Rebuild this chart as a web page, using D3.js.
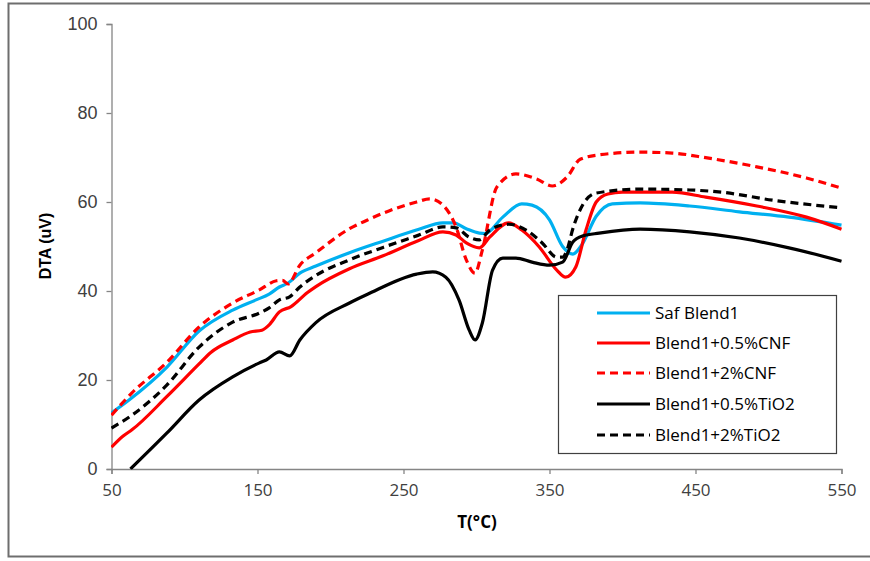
<!DOCTYPE html>
<html><head><meta charset="utf-8">
<script src="https://cdn.jsdelivr.net/npm/d3@7"></script>
<style>body{margin:0;background:#fff;}svg{display:block;}</style>
</head><body>
<svg id="c" width="870" height="561"></svg>
<script>
const seriesNames = ["Saf Blend1","Blend1+0.5%CNF","Blend1+2%CNF","Blend1+0.5%TiO2","Blend1+2%TiO2"];
const seriesColors = ["#00B0F0","#FF0000","#FF0000","#000000","#000000"];
const seriesDashed = [false,false,true,false,true];
const xTicks = [50,150,250,350,450,550];
const yTicks = [0,20,40,60,80,100];

const safBlend1 = [[50,12.6],[62,15.5],[88,22.9],[110,31],[133,35.7],[149,38],[158,39.3],[165,40.9],[171,41.8],[179,44],[190,45.6],[213,48.6],[236,51.2],[260,53.8],[277,55.3],[284,55.3],[293,54],[302,53],[306,52.9],[318,56.6],[331,59.6],[338,59.3],[350,56],[359,50],[366,48.3],[372,50.3],[382,56.8],[393,59.6],[412,59.8],[446,59.1],[480,57.8],[514,56.6],[550,54.8]];
const cnf05 = [[50,4.9],[58,7.4],[64,8.8],[88,16.3],[110,23.6],[118,26.2],[133,29],[145,30.8],[153,31.2],[158,32.4],[165,35.3],[173,36.5],[184,39.6],[190,41],[213,45],[236,47.9],[260,51.3],[277,53.3],[286,52.6],[293,50.8],[302,49.7],[309,52.1],[322,55.3],[331,53.7],[343,49.9],[355,44.7],[361,43.1],[368,45.4],[375,53.7],[382,60],[390,61.8],[400,62.2],[434,62.2],[457,61.1],[492,59.1],[526,56.6],[550,53.9]];
const cnf2 = [[50,12.1],[64,17.1],[88,24],[110,31.9],[133,37.3],[151,40.2],[163,42.3],[167,42.4],[171,41.6],[179,45.8],[190,48.6],[213,54],[225,55.9],[240,58],[259,60],[268,60.7],[277,59.3],[286,54.4],[293,47],[299,44],[304,49.2],[314,63.4],[327,66.3],[341,65.2],[352,63.6],[362,65.6],[371,69.6],[384,70.6],[412,71.2],[434,71],[458,69.9],[492,67.9],[526,65.4],[550,63.1]];
const tio05 = [[63,0],[88,8.1],[110,15.5],[133,20.7],[151,23.8],[156,24.5],[165,26.3],[172,25.4],[179,29],[190,32.9],[213,37.3],[225,39.2],[259,43.8],[270,44.3],[279,43.1],[288,38],[295,31.2],[299,29],[304,32.8],[311,44.7],[318,47.4],[327,47.4],[338,46.5],[350,45.8],[359,46.5],[366,51],[373,52.4],[384,53],[412,53.9],[446,53.3],[480,51.9],[514,49.7],[550,46.7]];
const tio2 = [[50,9.2],[64,12.1],[88,18.9],[110,27.4],[133,33],[151,35],[158,36.2],[165,38],[172,38.7],[179,40.9],[190,43.5],[213,47],[236,49.8],[260,52.5],[277,54.4],[286,54.2],[295,52.1],[302,51.5],[309,53.7],[322,55],[334,53.7],[345,50.8],[355,47.6],[359,47.6],[362,49.2],[366,54],[373,59.5],[382,62],[412,62.9],[446,62.7],[468,62.2],[503,60.4],[550,58.7]];
const seriesData = [safBlend1,cnf05,cnf2,tio05,tio2];

const svg = d3.select("#c");
// outer frame
svg.append("rect").attr("x",8.5).attr("y",3.5).attr("width",900).attr("height",553)
  .attr("fill","none").attr("stroke","#6e6e6e").attr("stroke-width",2);

const x = d3.scaleLinear().domain([50,550]).range([111.5,841.5]);
const y = d3.scaleLinear().domain([0,100]).range([469,24]);

svg.append("defs").append("clipPath").attr("id","clip")
  .append("rect").attr("x",111).attr("y",22).attr("width",733).attr("height",447.5);

// axes
const xAxis = d3.axisBottom(x).tickValues(xTicks).tickSize(5).tickPadding(10).tickFormat(d3.format("d"));
const gx = svg.append("g").attr("transform","translate(0,469)").call(xAxis);
gx.select(".domain").attr("stroke","#858585").attr("stroke-width",1.3);
gx.selectAll(".tick line").attr("stroke","#858585").attr("stroke-width",1.3);
gx.selectAll("text").attr("font-family","'Open Sans',sans-serif").attr("font-size",17).attr("fill","#404040");

const yAxis = d3.axisLeft(y).tickValues(yTicks).tickSize(5).tickPadding(9);
const gy = svg.append("g").attr("transform","translate(111.5,0)").call(yAxis);
gy.select(".domain").attr("stroke","#858585").attr("stroke-width",1.3);
gy.selectAll(".tick line").attr("stroke","#858585").attr("stroke-width",1.3);
gy.selectAll("text").attr("font-family","'Liberation Sans',Arial,sans-serif").attr("font-size",18).attr("fill","#404040");

// lines
const line = d3.line().x(d=>x(d[0])).y(d=>y(d[1])).curve(d3.curveMonotoneX);
const gl = svg.append("g").attr("clip-path","url(#clip)");
seriesData.forEach((s,i)=>{
  gl.append("path").datum(s).attr("d",line).attr("fill","none")
    .attr("stroke",seriesColors[i]).attr("stroke-width",3.2)
    .attr("stroke-dasharray",seriesDashed[i]?"8,5":null)
    .attr("stroke-linejoin","round");
});

// axis titles
svg.append("text").attr("transform","translate(51,246) rotate(-90)").attr("text-anchor","middle")
  .attr("font-family","'Liberation Sans',Arial,sans-serif").attr("font-weight","bold").attr("font-size",16)
  .attr("fill","#000").text("DTA (uV)");
svg.append("text").attr("x",477).attr("y",528).attr("text-anchor","middle")
  .attr("font-family","'Open Sans',sans-serif").attr("font-weight","bold").attr("font-size",17)
  .attr("fill","#000").text("T(°C)");

// legend
const lg = svg.append("g");
lg.append("rect").attr("x",558.5).attr("y",295.5).attr("width",278).attr("height",158)
  .attr("fill","#fff").attr("stroke","#404040").attr("stroke-width",1.2);
const rowY = [313,343,373,404,435];
seriesNames.forEach((n,i)=>{
  lg.append("line").attr("x1",597).attr("x2",650).attr("y1",rowY[i]).attr("y2",rowY[i])
    .attr("stroke",seriesColors[i]).attr("stroke-width",3.2)
    .attr("stroke-dasharray",seriesDashed[i]?"8,5":null);
  lg.append("text").attr("x",655).attr("y",rowY[i]).attr("dy","0.35em")
    .attr("font-family","'Open Sans',sans-serif").attr("font-size",17).attr("fill","#000").text(n);
});
</script>
</body></html>
